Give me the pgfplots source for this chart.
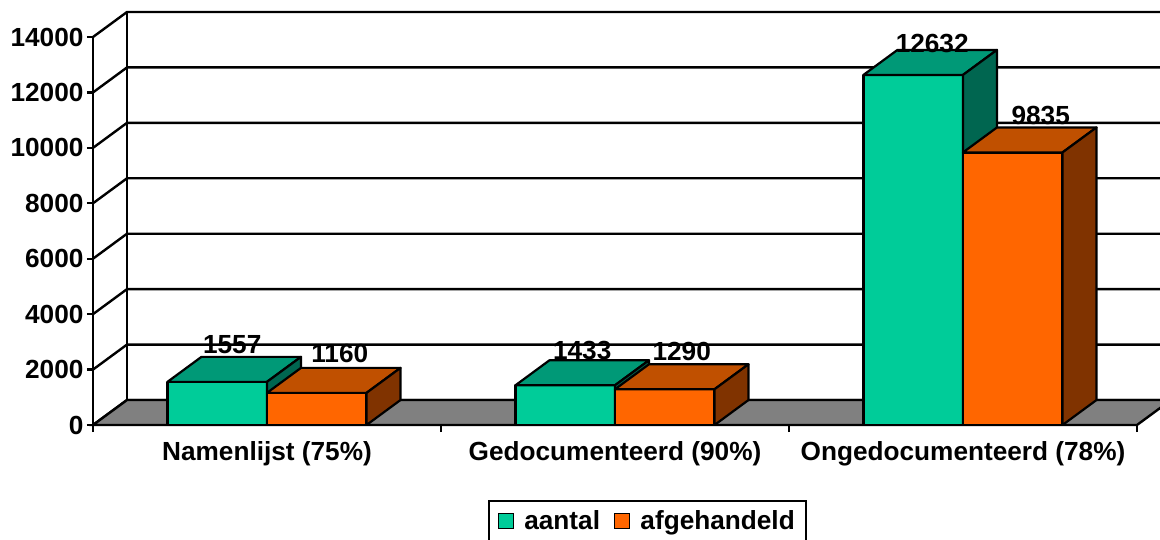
\documentclass[border=0pt]{standalone}
\usepackage{fontspec}
\setmainfont{Liberation Sans}
\usepackage{pgfplots}
\usepackage{pgfplotstable}
\pgfplotsset{compat=1.18}
\definecolor{gfront}{HTML}{00CC99}
\definecolor{gtop}{HTML}{009977}
\definecolor{gside}{HTML}{006650}
\definecolor{ofront}{HTML}{FF6600}
\definecolor{otop}{HTML}{C05000}
\definecolor{oside}{HTML}{803300}
\definecolor{floorgray}{HTML}{808080}

\def\dX{0.0977}
\def\dY{902}
\def\bw{0.286}
\newcommand\chartfont{\fontsize{26.2}{31}\selectfont\bfseries}

\newcommand\barthree[5]{%
  \pgfmathsetmacro\xa{#1}%
  \pgfmathsetmacro\xb{#1+\bw}%
  \pgfmathsetmacro\xc{#1+\dX}%
  \pgfmathsetmacro\xd{#1+\bw+\dX}%
  \pgfmathsetmacro\yv{#2}%
  \pgfmathsetmacro\yt{#2+\dY}%
  \addplot[forget plot, fill=#3, draw=black, line width=2.2pt, line join=round] coordinates {(\xa,0) (\xb,0) (\xb,\yv) (\xa,\yv)} -- cycle;
  \addplot[forget plot, fill=#4, draw=black, line width=2.2pt, line join=round] coordinates {(\xa,\yv) (\xb,\yv) (\xd,\yt) (\xc,\yt)} -- cycle;
  \addplot[forget plot, fill=#5, draw=black, line width=2.2pt, line join=round] coordinates {(\xb,0) (\xd,\dY) (\xd,\yt) (\xb,\yv)} -- cycle;
}

\pgfplotstableread{
x y xo yo
-0.143 1557 15 3
0.143 1160 23 5
0.857 1433 17 1
1.143 1290 17 4
1.857 12632 19 -3
2.143 9835 28 3
}\labeltable

\begin{document}
\begin{tikzpicture}
\begin{axis}[
  scale only axis, width=1044pt, height=388pt,
  xmin=-0.5, xmax=2.5, ymin=0, ymax=14000,
  axis x line*=bottom, axis y line*=left,
  axis line style={line width=2.4pt, black},
  clip=false, scaled y ticks=false,
  /pgf/number format/.cd, 1000 sep={}, assume math mode=true, /pgfplots/.cd,
  xtick={0,1,2},
  xticklabels={Namenlijst (75\%), Gedocumenteerd (90\%), Ongedocumenteerd (78\%)},
  xticklabel style={yshift=-7pt},
  minor xtick={-0.5,0.5,1.5,2.5},
  major x tick style={draw=none},
  minor x tick style={black, line width=2.4pt},
  ytick={0,2000,4000,6000,8000,10000,12000,14000},
  y tick style={black, line width=2.4pt},
  tick align=outside, major tick length=6pt, minor tick length=7pt,
  tick label style={font=\chartfont, black},
  legend columns=2,
  legend style={at={(0.3784,-0.1933)}, anchor=north west, draw=black, line width=1.8pt,
    font=\chartfont, inner xsep=9pt, inner ysep=8pt,
    /tikz/every odd column/.append style={column sep=8pt},
    /tikz/every even column/.append style={column sep=12pt}},
  legend image code/.code={\draw[#1, line width=1.4pt] (0pt,-7.5pt) rectangle (15pt,7.5pt);},
]
% back wall and left wall grid lines
\pgfplotsinvokeforeach{0,2000,4000,6000,8000,10000,12000,14000}{
  \pgfmathsetmacro\yb{#1+\dY}
  \addplot[forget plot, black, line width=2.4pt] coordinates {(-0.5,#1) (-0.4023,\yb) (2.62,\yb)};
}
\addplot[forget plot, black, line width=2.4pt] coordinates {(-0.4023,902) (-0.4023,14902)};
% floor
\addplot[forget plot, fill=floorgray, draw=black, line width=2.4pt] coordinates {(-0.5,0) (2.5,0) (2.5977,902) (-0.4023,902)} -- cycle;
% value labels (behind the bars)
\addplot[forget plot, draw=none, mark=none, nodes near coords, point meta=explicit,
  visualization depends on={\thisrow{xo}\as\xo},
  visualization depends on={\thisrow{yo}\as\yo},
  every node near coord/.append style={anchor=base, font=\chartfont, black, xshift=\xo pt, yshift={(25+\yo)*1pt}}]
  table[x=x, y=y, meta=y] {\labeltable};
% bars
\barthree{-0.286}{1557}{gfront}{gtop}{gside}
\barthree{0}{1160}{ofront}{otop}{oside}
\barthree{0.714}{1433}{gfront}{gtop}{gside}
\barthree{1}{1290}{ofront}{otop}{oside}
\barthree{1.714}{12632}{gfront}{gtop}{gside}
\barthree{2}{9835}{ofront}{otop}{oside}
\addlegendimage{fill=gfront, draw=black}
\addlegendentry{aantal}
\addlegendimage{fill=ofront, draw=black}
\addlegendentry{afgehandeld}
\end{axis}
\pgfresetboundingbox
\path (-93pt,-114pt) rectangle (1067pt,425pt);
\end{tikzpicture}
\end{document}
